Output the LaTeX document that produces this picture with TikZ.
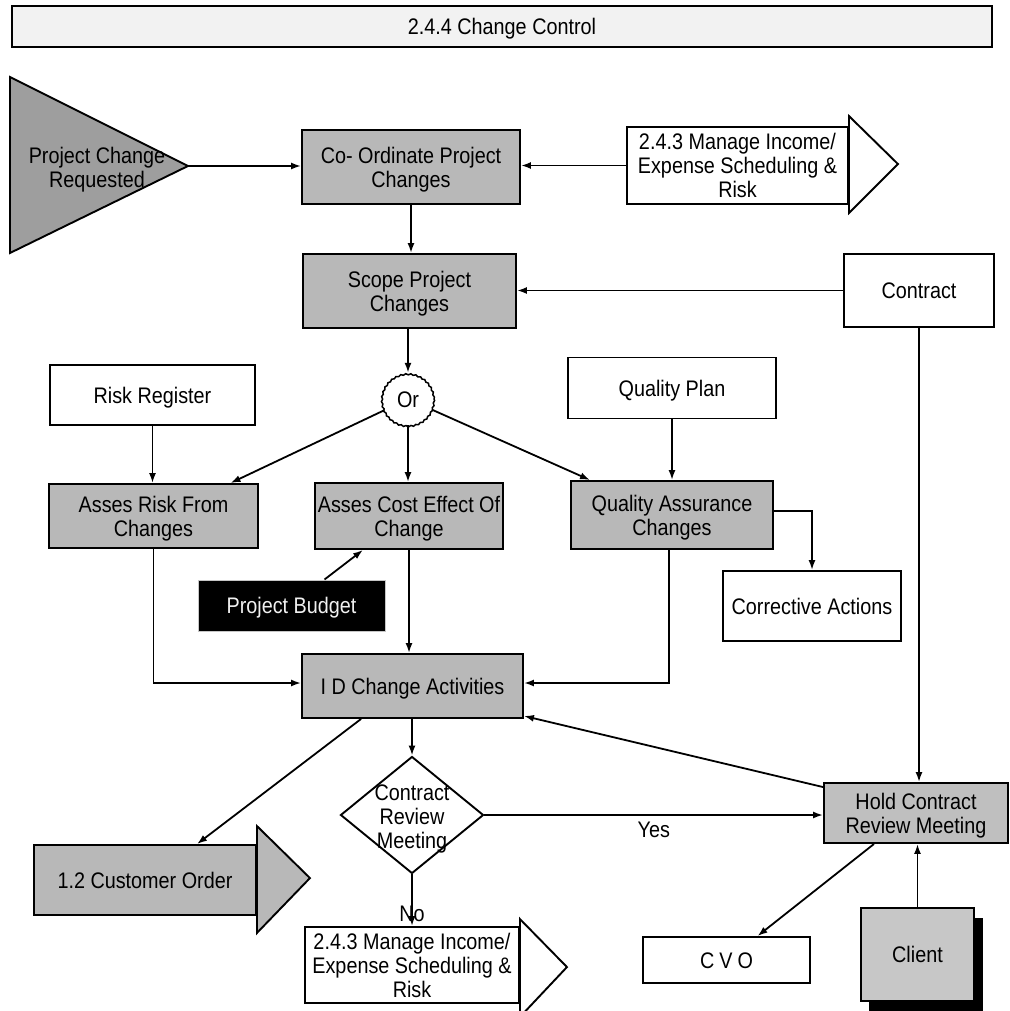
\documentclass[tikz,border=0pt]{standalone}
\usepackage{fontspec}
\setmainfont[FakeStretch=0.88]{Liberation Sans}
\usetikzlibrary{arrows.meta,shapes.geometric,decorations.pathmorphing,calc}
\definecolor{procgray}{gray}{0.72}
\definecolor{trigray}{gray}{0.62}
\definecolor{holdgray}{gray}{0.75}
\definecolor{clientgray}{gray}{0.78}
\definecolor{titlefill}{gray}{0.95}
\newcommand\tx[1]{\raisebox{-3.5pt}[\height][\depth]{\begin{tabular}{@{}c@{}}#1\end{tabular}}}
\begin{document}
\begin{tikzpicture}[x=1pt,y=-1pt,
  every node/.style={font=\fontsize{22.5}{24}\selectfont, align=center, inner sep=0pt},
  box/.style={draw, line width=1.9pt, fill=white, rectangle},
  proc/.style={box, fill=procgray},
  conn/.style={line width=1.8pt, -{Latex[length=10pt,width=7pt]}},
  outline/.style={line width=1.9pt}]
\useasboundingbox (0,0) rectangle (1009,1011);

% title
\node[draw, line width=2.8pt, fill=titlefill, minimum width=980pt, minimum height=41pt] (title) at (502,26.5) {\tx{2.4.4 Change Control}};

% start triangle
\draw[outline, fill=trigray] (10,77) -- (188,166) -- (10,253) -- cycle;
\coordinate (pcrtip) at (188,166);
\node (pcr) at (97,167) {\tx{Project Change\\Requested}};

% processes
\node[proc, minimum width=218pt, minimum height=74pt] (coord) at (411,167) {\tx{Co- Ordinate Project\\Changes}};
\node[proc, minimum width=213pt, minimum height=74pt] (scope) at (409.5,291) {\tx{Scope Project\\Changes}};
\node[proc, minimum width=209pt, minimum height=64pt] (assesrisk) at (153.5,516) {\tx{Asses Risk From\\Changes}};
\node[proc, minimum width=188pt, minimum height=66pt] (assescost) at (409,516) {\tx{Asses Cost Effect Of\\Change}};
\node[proc, minimum width=202pt, minimum height=68pt] (qa) at (672,515) {\tx{Quality Assurance\\Changes}};
\node[proc, minimum width=221pt, minimum height=64pt] (id) at (412.5,686) {\tx{I D Change Activities}};
\node[box, fill=holdgray, minimum width=184pt, minimum height=60pt] (hold) at (916,813) {\tx{Hold Contract\\Review Meeting}};

% data boxes
\node[box, minimum width=150pt, minimum height=73pt] (contract) at (919,290.5) {\tx{Contract}};
\node[box, minimum width=205pt, minimum height=60pt] (riskreg) at (152.5,395) {\tx{Risk Register}};
\node[box, minimum width=208pt, minimum height=61pt] (qplan) at (672,388) {\tx{Quality Plan}};
\node[box, minimum width=178pt, minimum height=70pt] (corrective) at (812,606) {\tx{Corrective Actions}};
\node[box, minimum width=167pt, minimum height=46pt] (cvo) at (726.5,960) {\tx{C\kern5pt V\kern5pt O}};
\node[fill=black, draw=gray!45, line width=1pt, minimum width=187pt, minimum height=51pt, text=gray!12] (budget) at (291.5,605.5) {\tx{Project Budget}};

% client with shadow
\fill[black] (869,918) rectangle (983,1015);
\node[box, fill=clientgray, minimum width=113pt, minimum height=93pt] (client) at (917.5,954.5) {\tx{Client}};

% off-page arrows
\node[box, minimum width=221pt, minimum height=77pt] (mgr1) at (737.5,165.5) {\tx{2.4.3 Manage Income/\\Expense Scheduling \&\\Risk}};
\draw[outline, fill=white] ([yshift=10pt]mgr1.north east) -- ++(49,48) -- ([yshift=-8pt]mgr1.south east) -- cycle;
\node[box, minimum width=214pt, minimum height=76pt] (mgr2) at (412,965) {\tx{2.4.3 Manage Income/\\Expense Scheduling \&\\Risk}};
\draw[outline, fill=white] ([yshift=7pt]mgr2.north east) -- ++(47,48) -- ([yshift=-13pt]mgr2.south east) -- cycle;
\node[box, fill=procgray, minimum width=222pt, minimum height=70pt] (custorder) at (145,880) {\tx{1.2 Customer Order}};
\draw[outline, fill=procgray] ([yshift=18pt]custorder.north east) -- ++(53,52) -- ([yshift=-17pt]custorder.south east) -- cycle;

% or gate and decision
\node[circle, minimum size=52pt, fill=white] (or) at (408,399) {\tx{Or}};
\draw[line width=1.5pt, decorate, decoration={snake, amplitude=0.6pt, segment length=5pt}] (or.center) circle (26);
\node[diamond, draw, line width=1.9pt, fill=white, minimum width=143pt, minimum height=117pt] (crm) at (412,815) {};
\node (crmtext) at (412,816) {\tx{Contract\\Review\\Meeting}};

% connectors
\draw[conn] (pcrtip) -- (pcrtip -| coord.west);
\draw[conn] (mgr1.west) -- (mgr1.west -| coord.east);
\draw[conn] (coord.south) -- (coord.south |- scope.north);
\draw[conn] (contract.west) -- (contract.west -| scope.east);
\draw[conn] (or.north |- scope.south) -- (or.north);
\draw[conn] (or) -- ([xshift=77pt]assesrisk.north);
\draw[conn] (or.south) -- (or.south |- assescost.north);
\draw[conn] (or) -- ([xshift=-82pt]qa.north);
\draw[conn] (riskreg.south) -- (riskreg.south |- assesrisk.north);
\draw[conn] (qplan.south) -- (qa.north);
\draw[conn] ([yshift=4pt]qa.east) -| (corrective.north);
\draw[conn] ([xshift=33pt]budget.north) -- ([xshift=-46pt]assescost.south);
\draw[conn] (assescost.south) -- (assescost.south |- id.north);
\draw[conn] (assesrisk.south) |- ([yshift=3pt]id.west);
\draw[conn] ([xshift=-3pt]qa.south) |- ([yshift=3pt]id.east);
\draw[conn] ([yshift=-5pt]hold.north west) -- ([yshift=3pt]id.south east);
\draw[conn] (crm.north |- id.south) -- (crm.north);
\draw[conn] (crm.east) -- node[below=6pt] (yes) {Yes} (crm.east -| hold.west);
\draw[conn] (crm.south) -- node[pos=0.77] (no) {No} (crm.south |- mgr2.north);
\draw[conn] ([xshift=60pt]id.south west) -- ([xshift=52pt]custorder.north);
\draw[conn] (contract.south) -- (contract.south |- hold.north);
\draw[conn] ([xshift=-42pt]hold.south) -- ([xshift=31pt]cvo.north);
\draw[conn] (client.north) -- (client.north |- hold.south);
\end{tikzpicture}
\end{document}
